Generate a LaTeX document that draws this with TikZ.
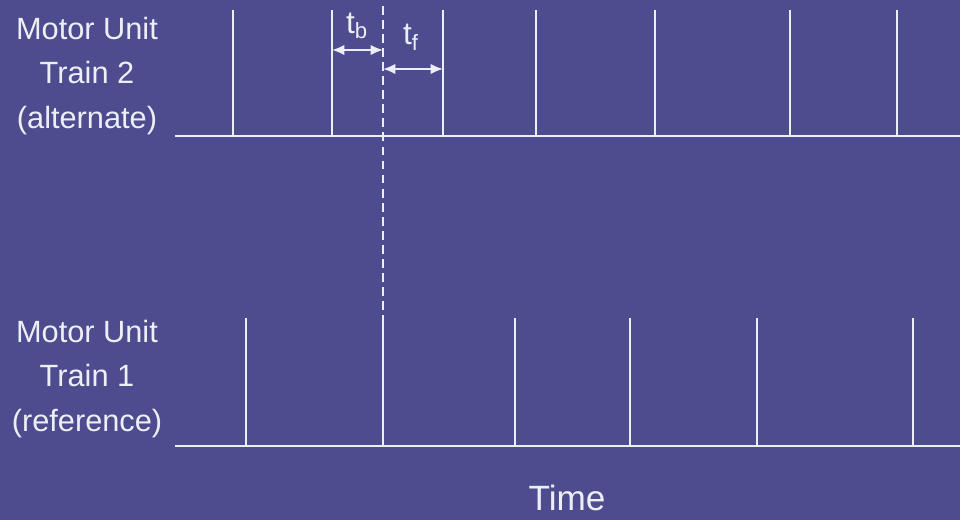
\documentclass[tikz,border=0pt]{standalone}
\usepackage{fontspec}
\setmainfont{Liberation Sans}
\usetikzlibrary{arrows.meta}
\definecolor{slidebg}{HTML}{4C4C8E}
\definecolor{trace}{HTML}{EEEEF6}
\newcommand{\spike}[3]{%
  \draw[trace,line width=1.4pt] (#1,#2) -- (#1,#3);
}
\tikzset{
  trainlabel/.style={trace,align=center,font=\fontsize{17.5}{25.5}\selectfont},
  intlabel/.style={trace,inner sep=0pt,font=\fontsize{18}{20}\selectfont},
  interval/.style={trace,line width=1.2pt,{Latex[length=7pt,width=6pt]}-{Latex[length=7pt,width=6pt]}},
}

\begin{document}
\begin{tikzpicture}[x=0.02cm,y=-0.02cm]
    \fill[slidebg] (0,0) rectangle (960,520);
    \useasboundingbox (0,0) rectangle (960,520);
    % train 2 (alternate)
    \draw[trace,line width=1.6pt] (175,136) -- (960,136);
    \foreach \t in {233,332,443,536,655,790,897} {\spike{\t}{136}{10}}
    % train 1 (reference)
    \draw[trace,line width=1.6pt] (175,446) -- (960,446);
    \foreach \t in {246,383,515,630,757,913} {\spike{\t}{446}{318}}
    % reference firing carried up to train 2
    \coordinate (reftop) at (383,6);
    \coordinate (ref) at (383,318);
    \draw[trace,line width=1pt,dash pattern=on 5pt off 3pt] (reftop) -- (ref);
    % backward and forward intervals
    \coordinate (b0) at (332,50);
    \coordinate (b1) at (383,50);
    \coordinate (f0) at (383,69);
    \coordinate (f1) at (443,69);
    \draw[interval] (b0) -- (b1);
    \draw[interval] (f0) -- (f1);
    \node[intlabel] (tb) at (357,26) {t\textsubscript{b}};
    \node[intlabel] (tf) at (411,37) {t\textsubscript{f}};
    \node[trainlabel] (alt) at (87,76) {Motor Unit\\Train 2\\(alternate)};
    \node[trainlabel] (refl) at (87,379) {Motor Unit\\Train 1\\(reference)};
    \node[trace,font=\fontsize{20}{24}\selectfont] (time) at (567,498) {Time};
  \end{tikzpicture}
\end{document}
